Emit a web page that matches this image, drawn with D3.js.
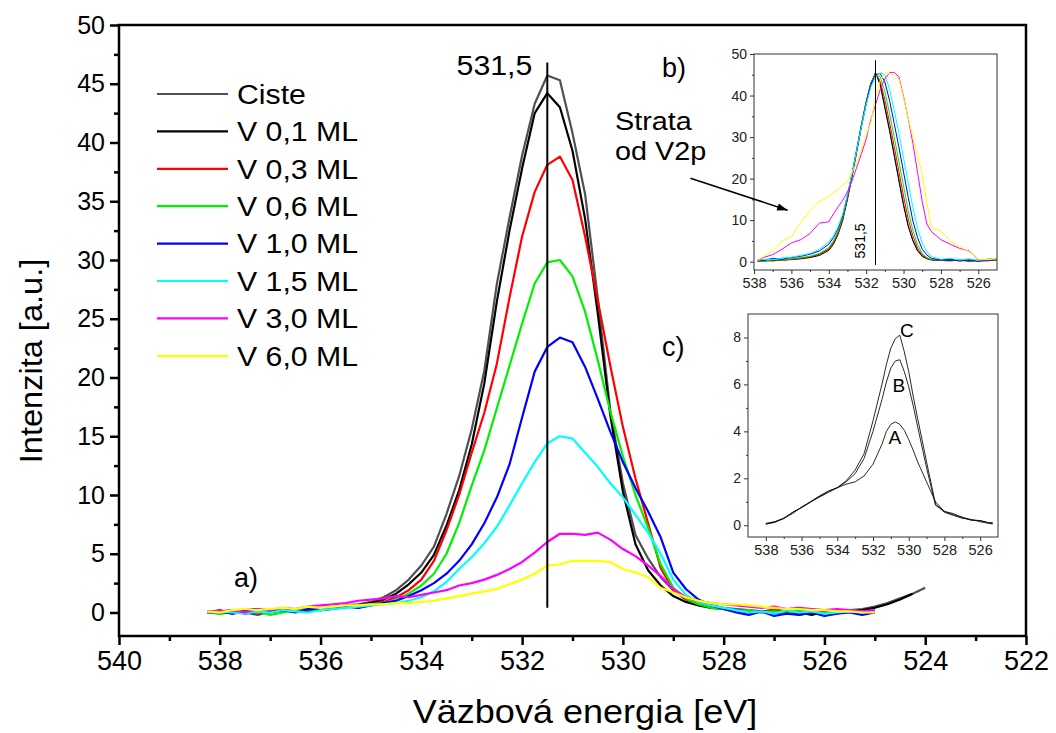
<!DOCTYPE html>
<html>
<head>
<meta charset="utf-8">
<script src="https://cdn.jsdelivr.net/npm/d3@7"></script>
<style>
  body { margin: 0; background: #fff; }
  svg { display: block; font-family: "Liberation Sans", Arial, sans-serif; }
</style>
</head>
<body>
<script>
// main panel (a)
const energies = [538.25, 538.0, 537.75, 537.5, 537.25, 537.0, 536.75, 536.5, 536.25, 536.0, 535.75, 535.5, 535.25, 535.0,
  534.75, 534.5, 534.25, 534.0, 533.75, 533.5, 533.25, 533.0, 532.75, 532.5, 532.25, 532.0, 531.75, 531.5, 531.25, 531.0,
  530.75, 530.5, 530.25, 530.0, 529.75, 529.5, 529.25, 529.0, 528.75, 528.5, 528.25, 528.0, 527.75, 527.5, 527.25, 527.0,
  526.75, 526.5, 526.25, 526.0, 525.75, 525.5, 525.25, 525.0]
const tailEnergies = [524.75, 524.5, 524.25, 524.0]

const seriesNames = ['Ciste', 'V 0,1 ML', 'V 0,3 ML', 'V 0,6 ML', 'V 1,0 ML', 'V 1,5 ML', 'V 3,0 ML', 'V 6,0 ML']

const ciste = [0.0, -0.1, 0.1, 0.0, -0.2, 0.1, 0.2, 0.1, 0.3, 0.2, 0.4, 0.6, 0.7, 0.9,
  1.3, 1.9, 2.8, 4.0, 5.6, 8.4, 11.6, 15.6, 20.6, 28.0, 33.6, 38.9, 43.3, 45.7, 45.3, 40.8, 35.6, 26.8, 17.2, 11.0,
  6.6, 4.6, 3.0, 1.9, 1.2, 0.9, 0.6, 0.4, 0.3, 0.2, 0.1, 0.2, 0.0, 0.1, -0.1, 0.0, 0.1, 0.2, 0.3, 0.5]
const cisteTail = [0.8, 1.2, 1.6, 2.1]
const v01 = [0.1, 0.0, 0.2, -0.1, 0.1, 0.0, 0.2, 0.3, 0.1, 0.3, 0.4, 0.5, 0.6, 0.8,
  1.1, 1.6, 2.4, 3.4, 4.9, 7.4, 10.4, 14.3, 19.5, 26.5, 32.5, 37.8, 42.5, 44.2, 43.0, 39.3, 33.5, 25.5, 16.8, 10.3,
  5.8, 3.6, 2.3, 1.4, 0.9, 0.6, 0.4, 0.3, 0.2, 0.0, 0.1, -0.1, 0.1, 0.0, -0.2, 0.1, 0.0, 0.1, 0.2, 0.4]
const v01Tail = [0.7, 1.1, 1.6]
const v03 = [0.0, 0.2, -0.1, 0.1, 0.0, 0.2, 0.1, 0.3, 0.2, 0.4, 0.3, 0.5, 0.6, 0.7,
  0.9, 1.3, 1.9, 2.8, 4.4, 7.0, 10.0, 13.6, 17.0, 21.2, 26.8, 32.0, 35.8, 38.1, 38.8, 36.8, 32.0, 26.6, 21.0, 15.8,
  11.4, 7.6, 3.8, 1.9, 1.1, 0.7, 0.5, 0.3, 0.1, 0.2, 0.0, 0.3, 0.1, -0.2, 0.0, 0.1, -0.1, 0.2, 0.0, 0.1]
const v06 = [0.1, -0.1, 0.0, 0.2, 0.1, -0.2, 0.0, 0.2, 0.3, 0.2, 0.4, 0.5, 0.5, 0.7,
  0.8, 1.1, 1.6, 2.3, 3.3, 5.0, 7.6, 10.8, 13.8, 17.4, 21.0, 24.6, 28.0, 29.8, 30.0, 28.6, 25.6, 21.5, 17.1, 13.3,
  10.0, 7.2, 4.1, 2.1, 1.2, 0.7, 0.4, 0.3, 0.1, 0.2, 0.0, 0.1, -0.1, 0.2, 0.0, -0.1, 0.1, 0.2, 0.1, 0.0]
const v10 = [0.0, 0.1, -0.1, 0.2, 0.3, 0.1, 0.2, 0.0, 0.3, 0.2, 0.3, 0.5, 0.4, 0.6,
  0.8, 1.0, 1.4, 1.9, 2.5, 3.3, 4.4, 5.8, 7.6, 9.8, 12.6, 16.6, 20.5, 22.6, 23.4, 23.0, 20.9, 18.2, 15.4, 12.8,
  10.6, 8.6, 6.4, 3.4, 2.0, 1.1, 0.6, 0.3, 0.0, -0.2, 0.1, -0.3, -0.1, -0.2, 0.0, -0.3, -0.1, 0.0, -0.2, 0.0]
const v15 = [0.0, 0.1, 0.0, -0.1, 0.1, 0.0, 0.2, 0.1, 0.0, 0.2, 0.3, 0.4, 0.5, 0.6,
  0.7, 0.8, 1.0, 1.3, 1.8, 2.6, 3.7, 4.7, 5.9, 7.3, 9.1, 11.0, 12.8, 14.4, 15.0, 14.8, 13.6, 12.4, 11.0, 9.8,
  8.3, 6.8, 5.0, 2.8, 1.5, 0.9, 0.6, 0.4, 0.2, 0.0, 0.1, -0.1, 0.2, 0.0, 0.1, -0.1, 0.0, 0.1, 0.0, 0.1]
const v30 = [0.1, 0.1, 0.2, 0.0, 0.3, 0.2, 0.4, 0.3, 0.5, 0.6, 0.7, 0.8, 1.0, 1.1,
  1.2, 1.4, 1.3, 1.5, 1.7, 1.9, 2.3, 2.5, 2.8, 3.2, 3.7, 4.3, 5.1, 6.0, 6.7, 6.7, 6.6, 6.8, 6.2, 5.4,
  4.8, 4.0, 3.1, 2.0, 1.3, 1.0, 0.8, 0.7, 0.6, 0.5, 0.4, 0.5, 0.3, 0.4, 0.3, 0.2, 0.3, 0.2, 0.1, 0.2]
const v60 = [0.1, 0.0, 0.2, 0.3, 0.2, 0.3, 0.4, 0.3, 0.5, 0.4, 0.5, 0.6, 0.6, 0.7,
  0.7, 0.8, 0.8, 0.9, 1.0, 1.2, 1.4, 1.6, 1.8, 2.0, 2.4, 2.8, 3.3, 4.0, 4.1, 4.4, 4.4, 4.4, 4.3, 3.7,
  3.4, 3.0, 2.1, 1.7, 1.3, 1.0, 0.8, 0.7, 0.7, 0.6, 0.5, 0.4, 0.3, 0.3, 0.2, 0.2, 0.1, 0.1, 0.0, 0.0]

const xTicks = [540, 538, 536, 534, 532, 530, 528, 526, 524, 522]
const yTicks = [0, 5, 10, 15, 20, 25, 30, 35, 40, 45, 50]
const peakLine = {energy: 531.5, from: 0.4, to: 46.8, label: '531,5'}

// inset (b), normalised spectra
const energiesB = [537.8, 537.5, 537, 536.5, 536, 535.5, 535, 534.5, 534, 533.75, 533.5, 533.25, 533, 532.75, 532.5,
  532.25, 532, 531.75, 531.5, 531.25, 531, 530.75, 530.5, 530.25, 530, 529.75, 529.5, 529.25, 529, 528.75, 528.5,
  528, 527.5, 527, 526.5, 526, 525.5, 525]
const bCiste = [0.2, 0.1, 0.3, 0.4, 0.6, 0.8, 1.1, 1.7, 3.0, 4.6, 7.0, 10.5, 15.5, 21.0, 27.0, 33.0, 38.5, 43.0, 45.5,
  43.0, 37.5, 32.0, 26.0, 20.0, 14.0, 8.8, 5.2, 2.8, 1.4, 0.8, 0.5, 0.3, 0.4, 0.2, 0.3, 0.1, 0.3, 0.4]
const bV01 = [0.1, 0.3, 0.2, 0.4, 0.5, 0.7, 1.0, 1.5, 2.7, 4.2, 6.6, 10.0, 15.0, 20.5, 26.5, 32.5, 38.0, 42.5, 45.5,
  42.5, 37.0, 31.5, 25.5, 19.5, 13.5, 8.5, 5.0, 2.6, 1.3, 0.7, 0.4, 0.3, 0.2, 0.4, 0.1, 0.3, 0.2, 0.5]
const bV03 = [0.0, 0.2, 0.4, 0.3, 0.6, 0.8, 1.2, 1.8, 3.1, 4.6, 7.0, 10.5, 15.5, 21.0, 27.0, 33.0, 38.5, 43.0, 45.3,
  43.5, 39.0, 33.5, 27.8, 21.8, 15.8, 10.3, 6.2, 3.3, 1.6, 0.8, 0.5, 0.3, 0.5, 0.2, 0.4, 0.3, 0.6, 0.5]
const bV06 = [0.3, 0.1, 0.5, 0.4, 0.7, 1.0, 1.3, 2.0, 3.4, 5.0, 7.4, 10.8, 15.8, 21.2, 27.2, 33.0, 38.5, 43.0, 45.2,
  44.5, 41.0, 35.7, 30.0, 24.2, 18.2, 12.3, 7.5, 4.2, 2.0, 1.0, 0.5, 0.4, 0.6, 0.3, 0.5, 0.2, 0.4, 0.6]
const bV10 = [0.5, 0.3, 0.8, 0.6, 1.0, 1.3, 1.8, 2.6, 4.2, 5.8, 8.0, 11.2, 16.0, 21.2, 27.0, 32.8, 38.2, 42.6, 45.0,
  45.3, 43.3, 38.8, 33.3, 27.6, 21.6, 15.5, 9.8, 5.8, 3.0, 1.6, 0.8, 0.4, 0.6, 0.2, 0.5, 0.1, 0.4, 0.6]
const bV15 = [0.3, 0.6, 0.5, 0.9, 1.1, 1.5, 2.0, 3.0, 4.8, 6.2, 8.4, 11.5, 16.2, 21.3, 27.0, 32.5, 37.8, 42.0, 44.5,
  45.5, 45.0, 41.5, 36.5, 31.0, 25.0, 19.0, 13.0, 8.0, 4.5, 2.4, 1.2, 0.6, 0.8, 0.4, 0.7, 0.3, 0.6, 0.8]
const bV30 = [0.3, 1.0, 1.7, 3.0, 4.5, 5.3, 6.8, 9.3, 9.6, 11.5, 13.2, 14.8, 16.8, 19.5, 22.8, 26.0, 29.5, 34.2, 37.8,
  41.4, 44.0, 45.5, 45.6, 44.5, 39.8, 34.5, 28.5, 21.5, 14.5, 9.0, 7.2, 5.3, 4.2, 3.2, 2.6, 0.5, 0.4, 0.6]
const bV60 = [0.4, 1.2, 2.6, 5.0, 6.0, 9.5, 12.3, 14.5, 15.8, 16.6, 17.5, 18.5, 19.3, 21.5, 23.8, 27.0, 30.5, 33.4, 39.5,
  43.5, 45.4, 45.3, 45.0, 44.0, 39.5, 34.5, 30.0, 25.5, 21.0, 14.0, 8.2, 7.4, 5.0, 3.6, 2.4, 0.6, 0.5, 0.7]
const bTicksX = [538, 536, 534, 532, 530, 528, 526]
const bTicksY = [0, 10, 20, 30, 40, 50]
const bArrow = {from: [541.4, 20.1], to: [536.2, 12.4]}

// inset (c)
const energiesC = [538, 537.5, 537, 536.5, 536, 535.5, 535, 534.5, 534, 533.5, 533, 532.5, 532, 531.5, 531.25, 531,
  530.75, 530.5, 530.25, 530, 529.75, 529.5, 529, 528.5, 528, 527.5, 527, 526.5, 526, 525.5, 525.3]
const cA = [0.05, 0.15, 0.3, 0.55, 0.75, 1.0, 1.2, 1.4, 1.6, 1.75, 1.85, 2.1, 2.6, 3.45, 4.0, 4.3, 4.4, 4.3, 4.05,
  3.65, 3.2, 2.7, 1.85, 1.0, 0.58, 0.5, 0.32, 0.22, 0.2, 0.1, 0.12]
const cB = [0.08, 0.15, 0.28, 0.55, 0.76, 0.98, 1.22, 1.45, 1.6, 1.85, 2.2, 2.85, 4.0, 5.35, 6.1, 6.7, 7.0, 7.05, 6.55,
  5.9, 5.1, 4.2, 2.45, 0.85, 0.6, 0.45, 0.35, 0.22, 0.2, 0.1, 0.08]
const cC = [0.05, 0.12, 0.3, 0.5, 0.78, 1.0, 1.25, 1.45, 1.6, 1.9, 2.35, 3.05, 4.45, 6.0, 6.85, 7.55, 7.95, 8.1, 7.4,
  6.55, 5.5, 4.55, 2.7, 0.9, 0.55, 0.42, 0.3, 0.25, 0.15, 0.08, 0.05]
const cLabels = [{t: 'A', e: 530.77, v: 3.76}, {t: 'B', e: 530.55, v: 5.98}, {t: 'C', e: 530.1, v: 8.3}]
const cTicksX = [538, 536, 534, 532, 530, 528, 526]
const cTicksY = [0, 2, 4, 6, 8]

const colors = ['#505050', '#000000', '#ff0000', '#00f000', '#0000ff', '#00ffff', '#ff00ff', '#ffff00']

const zip = (es, vs) => vs.map((v, i) => [es[i], v])

const mainSeries = [
  zip(energies.concat(tailEnergies), ciste.concat(cisteTail)),
  zip(energies.concat(tailEnergies), v01.concat(v01Tail)),
  zip(energies, v03), zip(energies, v06), zip(energies, v10),
  zip(energies, v15), zip(energies, v30), zip(energies, v60),
]
const insetSeries = [bCiste, bV01, bV03, bV06, bV10, bV15, bV30, bV60].map(vs => zip(energiesB, vs))
const cSeries = [cA, cB, cC].map(vs => zip(energiesC, vs))

const width = 1056
const height = 733

const svg = d3.select('body').append('svg')
  .attr('width', width)
  .attr('height', height)
  .attr('viewBox', `0 0 ${width} ${height}`)

// the original lettering is a bit wider than Arial at the same height
const widen = (sel, k) => sel
  .attr('lengthAdjust', 'spacingAndGlyphs')
  .attr('textLength', function() { return this.getComputedTextLength() * k })

const odd = (ticks) => ticks.slice(0, -1).map((t, i) => (t + ticks[i + 1]) / 2)

function axes(g, x, y, o) {
  const [x0, x1] = x.range()
  const [y0, y1] = y.range()
  const ax = g.append('g').attr('transform', `translate(0,${y0})`)
  ax.call(d3.axisBottom(x).tickValues(o.xt).tickSize(o.major).tickPadding(o.xpad).tickFormat(d3.format('d')))
  ax.append('g').call(d3.axisBottom(x).tickValues(odd(o.xt)).tickSize(o.minor).tickFormat(''))
  const ay = g.append('g').attr('transform', `translate(${x0},0)`)
  ay.call(d3.axisLeft(y).tickValues(o.yt).tickSize(o.major).tickPadding(o.ypad).tickFormat(d3.format('d')))
  ay.append('g').call(d3.axisLeft(y).tickValues(odd(o.yt)).tickSize(o.minor).tickFormat(''))
  g.selectAll('.domain').remove()
  g.selectAll('.tick line').attr('stroke', o.stroke).attr('stroke-width', o.width)
  g.selectAll('.tick text').attr('fill', o.text).style('font-size', o.font + 'px').attr('font-family', null)
  ax.selectAll('.tick text').style('font-size', o.xfont + 'px')
  g.append('rect')
    .attr('x', x0).attr('y', y1)
    .attr('width', x1 - x0).attr('height', y0 - y1)
    .attr('fill', 'none').attr('stroke', o.stroke).attr('stroke-width', o.width)
}

// ---- main
const x = d3.scaleLinear().domain([540, 522]).range([119, 1026])
const y = d3.scaleLinear().domain([-2, 50]).range([636, 25])

const line = d3.line().x(d => x(d[0])).y(d => y(d[1]))

svg.append('g')
  .selectAll('path')
  .data(mainSeries)
  .join('path')
    .attr('d', line)
    .attr('fill', 'none')
    .attr('stroke', (d, i) => colors[i])
    .attr('stroke-width', 2.2)
    .attr('stroke-linejoin', 'round')

svg.append('line')
  .attr('x1', x(peakLine.energy)).attr('x2', x(peakLine.energy))
  .attr('y1', y(peakLine.to)).attr('y2', y(peakLine.from))
  .attr('stroke', '#000').attr('stroke-width', 2)

svg.append('text')
  .attr('x', x(peakLine.energy) - 15).attr('y', 75)
  .attr('text-anchor', 'end')
  .style('font-size', '27px')
  .text(peakLine.label)
  .call(widen, 1.12)

axes(svg.append('g'), x, y, {xt: xTicks, yt: yTicks, major: 9, minor: 5, xpad: 6, ypad: 5,
  stroke: '#000', width: 2.5, text: '#000', font: 25, xfont: 27})

svg.append('text')
  .attr('transform', `translate(42,361) rotate(-90)`)
  .attr('text-anchor', 'middle')
  .style('font-size', '31px')
  .text('Intenzita [a.u.]')
  .call(widen, 1.05)

svg.append('text')
  .attr('x', 585).attr('y', 723)
  .attr('text-anchor', 'middle')
  .style('font-size', '34px')
  .text('Väzbová energia [eV]')
  .call(widen, 1.06)

const legend = svg.append('g')
  .selectAll('g')
  .data(seriesNames)
  .join('g')
    .attr('transform', (d, i) => `translate(157,${94 + i * 37.4})`)
legend.append('line')
  .attr('x1', 0).attr('x2', 71)
  .attr('stroke', (d, i) => colors[i])
  .attr('stroke-width', 2.2)
legend.append('text')
  .attr('x', 80).attr('dy', '0.36em')
  .style('font-size', '27px')
  .text(d => d)
  .call(widen, 1.12)

svg.append('text').attr('x', 234).attr('y', 587).style('font-size', '27px').text('a)')

// ---- inset b
const xb = d3.scaleLinear().domain([538, 525]).range([754, 997])
const yb = d3.scaleLinear().domain([-2, 50]).range([270, 54])
const lineB = d3.line().x(d => xb(d[0])).y(d => yb(d[1]))

svg.append('defs').append('clipPath').attr('id', 'clipb')
  .append('rect').attr('x', 754).attr('y', 54).attr('width', 243).attr('height', 216)

svg.append('g')
  .attr('clip-path', 'url(#clipb)')
  .selectAll('path')
  .data(insetSeries)
  .join('path')
    .attr('d', lineB)
    .attr('fill', 'none')
    .attr('stroke', (d, i) => colors[i])
    .attr('stroke-width', 1)

svg.append('line')
  .attr('x1', xb(peakLine.energy)).attr('x2', xb(peakLine.energy))
  .attr('y1', yb(48.5)).attr('y2', yb(-0.8))
  .attr('stroke', '#000').attr('stroke-width', 1)

svg.append('text')
  .attr('transform', `translate(${xb(peakLine.energy) - 15},${yb(5)}) rotate(-90)`)
  .attr('text-anchor', 'middle')
  .attr('dy', '0.35em')
  .style('font-size', '14px')
  .text(peakLine.label)

axes(svg.append('g'), xb, yb, {xt: bTicksX, yt: bTicksY, major: 4, minor: 2, xpad: 4, ypad: 3,
  stroke: '#333', width: 1, text: '#222', font: 14, xfont: 14.5})

svg.append('text').attr('x', 662).attr('y', 77).style('font-size', '27px').text('b)')
svg.append('text').attr('x', 615).attr('y', 130).style('font-size', '25px').text('Strata').call(widen, 1.15)
svg.append('text').attr('x', 615).attr('y', 160).style('font-size', '25px').text('od V2p').call(widen, 1.15)

svg.select('defs').append('marker')
  .attr('id', 'head').attr('viewBox', '0 0 10 10')
  .attr('refX', 10).attr('refY', 5)
  .attr('markerWidth', 7).attr('markerHeight', 7)
  .attr('orient', 'auto')
  .append('path').attr('d', 'M0,1.5 L10,5 L0,8.5 z').attr('fill', '#000')

svg.append('line')
  .attr('x1', xb(bArrow.from[0])).attr('y1', yb(bArrow.from[1]))
  .attr('x2', xb(bArrow.to[0])).attr('y2', yb(bArrow.to[1]))
  .attr('stroke', '#000').attr('stroke-width', 1.5)
  .attr('marker-end', 'url(#head)')

// ---- inset c
const xc = d3.scaleLinear().domain([539, 525]).range([748, 998])
const yc = d3.scaleLinear().domain([-0.5, 9]).range([537, 314])
const lineC = d3.line().x(d => xc(d[0])).y(d => yc(d[1]))

svg.append('g')
  .selectAll('path')
  .data(cSeries)
  .join('path')
    .attr('d', lineC)
    .attr('fill', 'none')
    .attr('stroke', '#111')
    .attr('stroke-width', 0.9)

svg.append('g')
  .selectAll('text')
  .data(cLabels)
  .join('text')
    .attr('x', d => xc(d.e)).attr('y', d => yc(d.v))
    .attr('text-anchor', 'middle').attr('dy', '0.36em')
    .style('font-size', '19px')
    .text(d => d.t)

axes(svg.append('g'), xc, yc, {xt: cTicksX, yt: cTicksY, major: 4, minor: 2, xpad: 4, ypad: 3,
  stroke: '#333', width: 1, text: '#222', font: 14, xfont: 14.5})

svg.append('text').attr('x', 662).attr('y', 356).style('font-size', '27px').text('c)')
</script>
</body>
</html>
